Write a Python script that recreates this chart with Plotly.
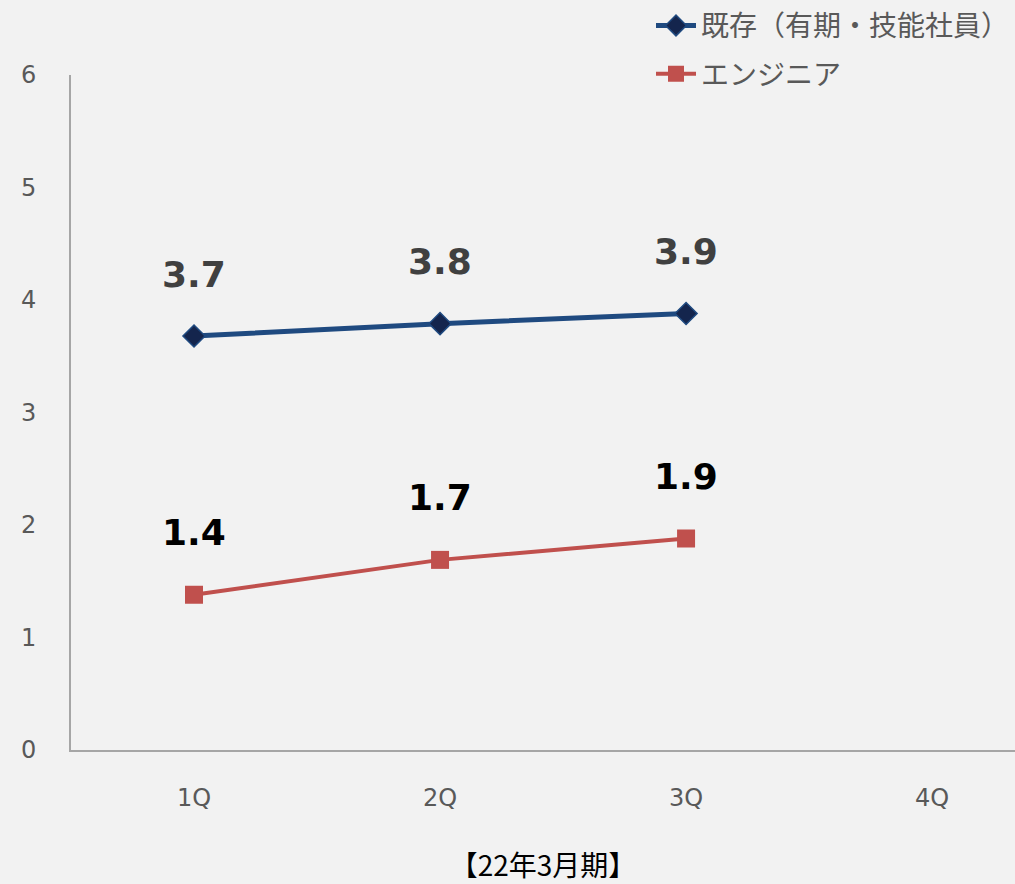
import plotly.graph_objects as go

categories = ["1Q", "2Q", "3Q", "4Q"]
existing_vals = [3.68, 3.79, 3.88]
engineer_vals = [1.38, 1.69, 1.88]
y_ticks = [0, 1, 2, 3, 4, 5, 6]
series_names = ["既存（有期・技能社員）", "エンジニア"]
x_title = "【22年3月期】"

FONT = "DejaVu Sans"
CJK = "Noto Sans CJK JP"
BG = "#f2f2f2"

fig = go.Figure()
fig.add_trace(go.Scatter(
    x=categories[:len(existing_vals)], y=existing_vals, name=series_names[0],
    mode="lines+markers", legendgroup="a",
    line=dict(color="#1f4a80", width=5),
    marker=dict(symbol="diamond", size=17, color="#14254d",
                line=dict(color="#1f4a80", width=1.5)),
))
fig.add_trace(go.Scatter(
    x=categories[:len(engineer_vals)], y=engineer_vals, name=series_names[1],
    mode="lines+markers", legendgroup="b",
    line=dict(color="#c0504d", width=4),
    marker=dict(symbol="square", size=18, color="#c0504d"),
))

for vals, col in [(existing_vals, "#404040"), (engineer_vals, "#000000")]:
    for c, v in zip(categories, vals):
        fig.add_annotation(x=c, y=v, text=f"<b>{v:.1f}</b>", showarrow=False,
                           yshift=62, font=dict(family=FONT, size=36, color=col))

fig.update_layout(
    width=1015, height=884,
    paper_bgcolor=BG, plot_bgcolor=BG,
    margin=dict(l=71, r=0, t=75, b=134, autoexpand=False),
    font=dict(family=FONT, color="#595959", size=24),
    showlegend=True,
    legend=dict(x=1.0, xanchor="right", y=1.11, yanchor="top",
                bgcolor="rgba(0,0,0,0)", traceorder="grouped",
                font=dict(family=CJK, size=28, color="#595959"),
                tracegroupgap=9, itemwidth=40),
)
fig.update_xaxes(
    type="category", categoryorder="array", categoryarray=categories,
    range=[-0.5, 3.337],
    showline=True, linecolor="#a6a6a6", linewidth=2,
    showgrid=False, zeroline=False, ticks="",
    ticklabelstandoff=25,
    tickfont=dict(family=FONT, size=24, color="#595959"),
    title=dict(text=x_title, standoff=66,
               font=dict(family=CJK, size=28, color="#000000")),
)
fig.update_yaxes(
    range=[0, 6], tickvals=y_ticks,
    showline=True, linecolor="#a6a6a6", linewidth=2,
    showgrid=False, zeroline=False, ticks="",
    ticklabelstandoff=28,
    tickfont=dict(family=FONT, size=24, color="#595959"),
)

fig.write_html("out.html", config={"displayModeBar": False},
               post_script="document.body.style.margin='0';document.body.style.background='#f2f2f2';")
